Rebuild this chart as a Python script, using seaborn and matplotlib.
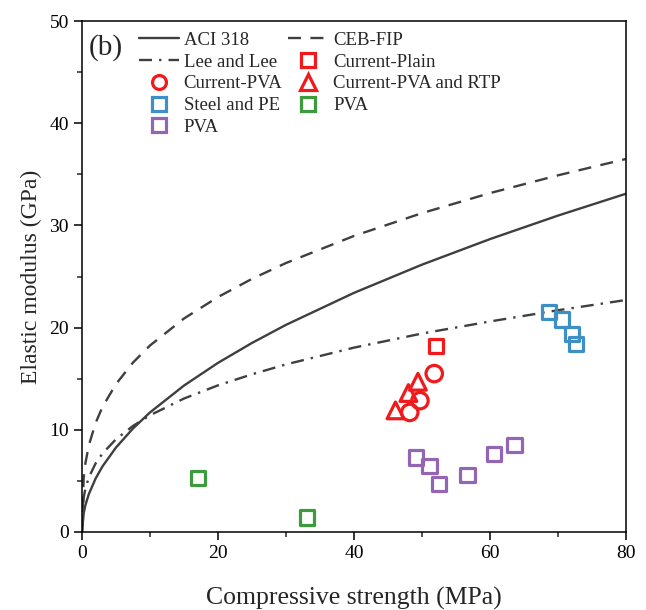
import matplotlib
matplotlib.use("Agg")
import matplotlib.pyplot as plt
from matplotlib.lines import Line2D
from matplotlib.ticker import MultipleLocator
import seaborn as sns
import pandas as pd

# ---- data ----
fc_curve = [0, 0.25, 0.5, 1, 2, 3, 5, 7.5, 10, 15, 20, 25, 30, 40, 50, 60, 70, 80]
aci_318 = [0, 1.85, 2.62, 3.7, 5.23, 6.41, 8.27, 10.13, 11.7, 14.33, 16.55, 18.5,
           20.27, 23.4, 26.16, 28.66, 30.96, 33.1]
ceb_fip = [0, 5.34, 6.72, 8.47, 10.67, 12.22, 14.48, 16.58, 18.25, 20.89, 22.99, 24.77,
           26.32, 28.97, 31.2, 33.16, 34.9, 36.5]
lee_lee = [0, 3.38, 4.25, 5.34, 6.71, 7.67, 9.08, 10.38, 11.42, 13.06, 14.35, 15.43,
           16.4, 18.04, 19.42, 20.6, 21.7, 22.7]

plain_x = [52.1]
plain_y = [18.2]
cpva_x = [51.8, 49.7, 48.2]
cpva_y = [15.5, 12.85, 11.7]
rtp_x = [49.4, 48.0, 46.1]
rtp_y = [14.7, 13.6, 11.9]
steel_x = [68.7, 70.6, 72.1, 72.7]
steel_y = [21.5, 20.8, 19.4, 18.4]
pva_p_x = [49.1, 51.1, 52.5, 56.7, 60.6, 63.6]
pva_p_y = [7.3, 6.46, 4.7, 5.6, 7.6, 8.5]
pva_g_x = [17.1, 33.1]
pva_g_y = [5.25, 1.43]

# ---- style ----
sns.set_style("ticks")
plt.rcParams["font.family"] = ["Liberation Serif", "DejaVu Serif"]

RED = "#f2191c"
BLUE = "#3d8fc6"
GREEN = "#3c9b3c"
PURPLE = "#9366b5"
LINE = "#3f3f3f"

fig = plt.figure(figsize=(6.46, 6.10), dpi=100)
ax = fig.add_axes([82 / 646, 78 / 610, 544 / 646, 511 / 610])

curves = pd.DataFrame({"fc": fc_curve, "aci": aci_318, "ceb": ceb_fip, "lee": lee_lee})
lw = 1.7
DASH = (0, (5.5, 4))
DASHDOT = (0, (5.5, 3, 1, 3))
sns.lineplot(data=curves, x="fc", y="aci", ax=ax, color=LINE, lw=lw, estimator=None, sort=False)
sns.lineplot(data=curves, x="fc", y="ceb", ax=ax, color=LINE, lw=lw, estimator=None, sort=False,
             linestyle=DASH)
sns.lineplot(data=curves, x="fc", y="lee", ax=ax, color=LINE, lw=lw, estimator=None, sort=False,
             linestyle=DASHDOT)

mew = 2.3
def pts(x, y, marker, color, s):
    sns.scatterplot(x=x, y=y, ax=ax, marker=marker, s=s, facecolors="none",
                    edgecolor=color, linewidth=mew, zorder=5)

pts(plain_x, plain_y, "s", RED, 105)
pts(cpva_x, cpva_y, "o", RED, 140)
pts(rtp_x, rtp_y, "^", RED, 145)
pts(steel_x, steel_y, "s", BLUE, 105)
pts(pva_p_x, pva_p_y, "s", PURPLE, 105)
pts(pva_g_x, pva_g_y, "s", GREEN, 105)

ax.set_xlim(0, 80)
ax.set_ylim(0, 50)
ax.xaxis.set_major_locator(MultipleLocator(20))
ax.xaxis.set_minor_locator(MultipleLocator(10))
ax.yaxis.set_major_locator(MultipleLocator(10))
ax.yaxis.set_minor_locator(MultipleLocator(5))
ax.tick_params(which="major", direction="out", length=6, width=1.1, labelsize=14, colors="black")
ax.tick_params(which="minor", direction="out", length=3.5, width=1.1)
for sp in ax.spines.values():
    sp.set_visible(True)
    sp.set_linewidth(1.1)
    sp.set_color("black")

ax.set_xlabel("Compressive strength (MPa)", fontsize=18.5, labelpad=18)
ax.set_ylabel("Elastic modulus (GPa)", fontsize=17, labelpad=5)

ax.text(0.012, 0.949, "(b)", transform=ax.transAxes, fontsize=21, va="center", ha="left")

def mk(marker, color, ms=10):
    return Line2D([], [], ls="none", marker=marker, markersize=ms, markerfacecolor="none",
                  markeredgecolor=color, markeredgewidth=mew)

h_aci = Line2D([], [], color=LINE, lw=lw)
h_ceb = Line2D([], [], color=LINE, lw=lw, linestyle=DASH)
h_lee = Line2D([], [], color=LINE, lw=lw, linestyle=DASHDOT)
handles = [h_aci, h_lee, mk("o", RED), mk("s", BLUE), mk("s", PURPLE),
           h_ceb, mk("s", RED), mk("^", RED, 11), mk("s", GREEN)]
labels = ["ACI 318", "Lee and Lee", "Current-PVA", "Steel and PE", "PVA",
          "CEB-FIP", "Current-Plain", "Current-PVA and RTP", "PVA"]
ax.legend(handles, labels, ncol=2, loc="upper left", bbox_to_anchor=(0.08, 1.005),
          frameon=False, fontsize=13.5, handlelength=2.15, handletextpad=0.25,
          columnspacing=0.3, labelspacing=0.25, borderaxespad=0.3)

fig.savefig("out.png", dpi=100)
